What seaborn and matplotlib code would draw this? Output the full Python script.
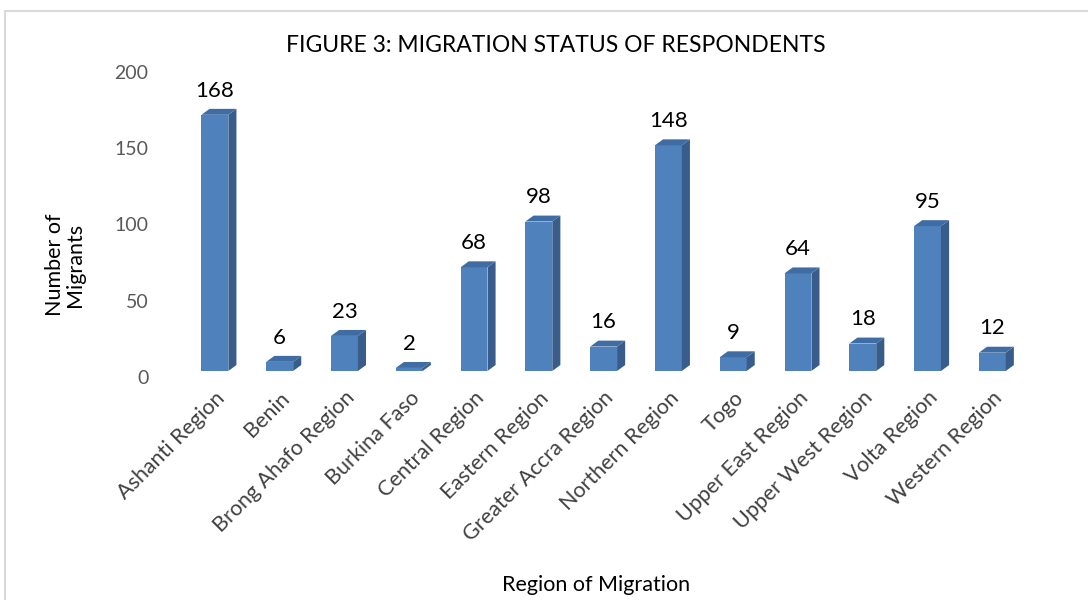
import numpy as np
import matplotlib.pyplot as plt
import matplotlib.transforms as mtransforms
import seaborn as sns
from matplotlib.patches import Polygon, Rectangle

# data
regions = ["Ashanti Region", "Benin", "Brong Ahafo Region", "Burkina Faso",
           "Central Region", "Eastern Region", "Greater Accra Region",
           "Northern Region", "Togo", "Upper East Region", "Upper West Region",
           "Volta Region", "Western Region"]
migrants = [168, 6, 23, 2, 68, 98, 16, 148, 9, 64, 18, 95, 12]

sns.set_theme(style="white")
plt.rcParams['font.family'] = ['Lato', 'DejaVu Sans']

fig = plt.figure(figsize=(10.88, 6), dpi=100)
ax = fig.add_axes([0.1618, 0.3817, 0.786, 0.5083])

front = "#4F81BD"
side = "#385D8A"
top = "#3F6CA3"

sns.barplot(x=regions, y=migrants, color=front, width=0.415, saturation=1,
            linewidth=0, ax=ax, zorder=3)

# fake 3D depth like the excel chart
dx, dy = 0.125, 3.9
for p in ax.patches:
    x0 = p.get_x()
    w = p.get_width()
    h = p.get_height()
    x1 = x0 + w
    ax.add_patch(Polygon([(x1, 0), (x1 + dx, dy), (x1 + dx, h + dy), (x1, h)],
                         closed=True, facecolor=side, edgecolor="none", zorder=3))
    ax.add_patch(Polygon([(x0, h), (x1, h), (x1 + dx, h + dy), (x0 + dx, h + dy)],
                         closed=True, facecolor=top, edgecolor="none", zorder=3))
    ax.annotate(f"{int(h)}", (x0 + w / 2, h + dy), xytext=(0, 6),
                textcoords="offset points", ha="center", va="bottom",
                fontsize=16, color="black")

ax.set_ylim(0, 200)
ax.set_xlim(-0.6, len(regions) - 0.4)
ax.set_yticks([0, 50, 100, 150, 200])
ax.tick_params(axis="y", labelsize=14, labelcolor="#595959", length=0, pad=20)
ax.tick_params(axis="x", labelsize=15.5, labelcolor="#404040", length=0, pad=12)
plt.setp(ax.get_xticklabels(), rotation=45, ha="right", rotation_mode="anchor")
# the excel floor sits a few pixels above the tick labels
shift = mtransforms.ScaledTranslation(0, -6 / 100, fig.dpi_scale_trans)
for lab in ax.get_yticklabels():
    lab.set_transform(lab.get_transform() + shift)
for s in ax.spines.values():
    s.set_visible(False)

ax.set_xlabel("")
ax.set_ylabel("")
fig.text(0.511, 0.925, "FIGURE 3: MIGRATION STATUS OF RESPONDENTS",
         ha="center", va="center", fontsize=16.5, color="black")
fig.text(0.548, 0.025, "Region of Migration", ha="center", va="center",
         fontsize=15.5, color="black")
fig.text(0.06, 0.558, "Number of\nMigrants", ha="center", va="center",
         rotation=90, fontsize=15.5, color="black", linespacing=1.0)

# light frame around the chart area
fig.patches.append(Rectangle((0.005, -0.05), 1.05, 1.032, transform=fig.transFigure,
                             fill=False, edgecolor="#D9D9D9", linewidth=1.5))

fig.savefig("out.png", dpi=100)
